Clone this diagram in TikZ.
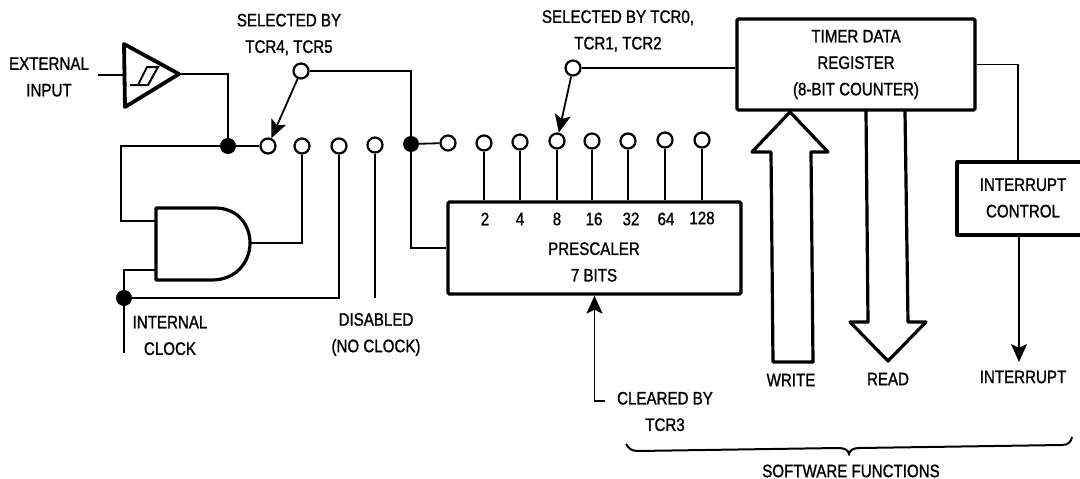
\documentclass[tikz,border=0pt]{standalone}
\usepackage{fontspec}
\setmainfont[FakeStretch=0.84, FakeBold=1.2]{Liberation Sans}
\usetikzlibrary{arrows.meta}
\tikzset{
    thinline/.style={line width=1.8pt},
    heavy/.style={line width=3.2pt, line join=round},
    pad/.style={circle, draw, fill=white, minimum size=15pt, inner sep=0pt, line width=2.2pt},
    junction/.style={circle, fill=black, minimum size=16pt, inner sep=0pt},
    block/.style={draw, line width=3.2pt, rounded corners=1.5pt, inner sep=0pt, align=center},
    lbl/.style={align=center, inner sep=0pt, font=\fontsize{18}{26.5}\selectfont}
}
\begin{document}
\begin{tikzpicture}[x=1pt, y=-1pt, >={Stealth[length=18pt, width=16pt, inset=4pt]}]
    \useasboundingbox (0,0) rectangle (1080,479);

    % Switch pads and junctions
    \node (sel1) [pad] at (301,71) {};
    \node (sel2) [pad] at (573,68) {};
    \node (ja) [junction] at (228,146) {};
    \node (jb) [junction] at (411,144) {};
    \node (jc) [junction] at (124,298) {};
    \node (pa) [pad] at (268,146) {};
    \node (pb) [pad] at (302,146) {};
    \node (pc) [pad] at (339,146) {};
    \node (pd) [pad] at (375,145) {};
    \node (p0) [pad] at (448,143) {};
    \node (p1) [pad] at (484,143) {};
    \node (p2) [pad] at (520,142) {};
    \node (p3) [pad] at (557,141) {};
    \node (p4) [pad] at (592,141) {};
    \node (p5) [pad] at (628,141) {};
    \node (p6) [pad] at (665,140) {};
    \node (p7) [pad] at (702,140) {};

    % Blocks
    \node (presc) [block, minimum width=293pt, minimum height=92pt] at (594.5,248) {};
    \node (reg) [block, lbl, minimum width=238pt, minimum height=91pt] at (856,64.5) {TIMER DATA\\REGISTER\\(8-BIT COUNTER)};
    \node (intctl) [lbl, minimum width=132pt, minimum height=73pt] at (1023,198) {INTERRUPT\\CONTROL};
    \draw[heavy] (1080,162) -- (957,162) -- (957,235) -- (1080,235);

    % Input buffer
    \coordinate (bufin) at (124,75);
    \coordinate (bufout) at (179,74);
    \coordinate (extin) at (98,75);
    \draw[heavy, line width=3.8pt] (124,44) -- (bufout) -- (125,107) -- cycle;
    \draw[line width=2pt] (130,85) -- (148,85) -- (158,67) -- (147,67) -- (138,85);

    % AND gate
    \coordinate (andina) at (156,221);
    \coordinate (andinb) at (156,270);
    \coordinate (andout) at (250,243);
    \draw[heavy] (156,208) -- (215,208) .. controls (238,208) and (250,225) .. (andout) .. controls (250,262) and (236,280) .. (212,280) -- (156,280) -- cycle;

    % Wires on the left
    \coordinate (clkin) at (124,353);
    \draw[thinline] (extin) -- (bufin);
    \draw[thinline] (bufout) -| (ja);
    \draw[thinline] (ja) -- (pa);
    \draw[thinline] (ja) -- ++(-107,0) |- (andina);
    \draw[thinline] (jc) |- (andinb);
    \draw[thinline] (jc) -- (clkin);
    \draw[thinline] (jc) -| (pc);
    \draw[thinline] (andout) -| (pb);
    \draw[thinline] (pd) -- (pd |- jc);
    \draw[thinline] (sel1) -| (jb);
    \draw[thinline] (jb) |- (presc.west);
    \draw[thinline] (jb) -- (p0);
    \draw[thinline, ->] (sel1) -- (pa);

    % Prescaler taps
    \draw[thinline] (p1) -- (p1 |- presc.north);
    \draw[thinline] (p2) -- (p2 |- presc.north);
    \draw[thinline] (p3) -- (p3 |- presc.north);
    \draw[thinline] (p4) -- (p4 |- presc.north);
    \draw[thinline] (p5) -- (p5 |- presc.north);
    \draw[thinline] (p6) -- (p6 |- presc.north);
    \draw[thinline] (p7) -- (p7 |- presc.north);
    \node (n2) [lbl] at (485,219) {2};
    \node (n4) [lbl] at (520,219) {4};
    \node (n8) [lbl] at (557,219) {8};
    \node (n16) [lbl] at (594,219) {16};
    \node (n32) [lbl] at (631,219) {32};
    \node (n64) [lbl] at (666,219) {64};
    \node (n128) [lbl] at (702,218) {128};
    \node (presctext) [lbl] at (594,262) {PRESCALER\\7 BITS};

    % Wires on the right
    \coordinate (intin) at (1018,162);
    \coordinate (intout) at (1019,235);
    \coordinate (intend) at (1019,362);
    \coordinate (clrend) at (605,401);
    \draw[thinline] (sel2) -- (sel2 -| reg.west);
    \draw[thinline, ->] (sel2) -- (p3);
    \draw[thinline] (reg.east) -| (intin);
    \draw[thinline, ->] (intout) -- (intend);
    \draw[thinline, ->] (clrend) -| (presc.south);

    % Write and read arrows
    \draw[heavy] (790,112) -- (752,152) -- (771,152) -- (773,362) -- (813,362) -- (811,152) -- (828,152) -- cycle;
    \draw[heavy] (866,111) -- (868,322) -- (850,322) -- (888,361) -- (926,322) -- (908,322) -- (905,111);

    % Brace
    \draw[line width=2pt] (626,444) .. controls (629,449) and (632,451) .. (638,451) -- (838,448) .. controls (845,448) and (848,450) .. (849,454) .. controls (850,450) and (853,448) .. (860,448) -- (1062,445) .. controls (1068,445) and (1071,442) .. (1072,437);

    % Labels
    \node (extlbl) [lbl] at (49,77) {EXTERNAL\\INPUT};
    \node (sel1lbl) [lbl] at (289,34.5) {SELECTED BY\\TCR4, TCR5};
    \node (sel2lbl) [lbl] at (618,31) {SELECTED BY TCR0,\\TCR1, TCR2};
    \node (clklbl) [lbl] at (170,335.5) {INTERNAL\\CLOCK};
    \node (dislbl) [lbl] at (376,334.5) {DISABLED\\(NO CLOCK)};
    \node (clrlbl) [lbl] at (665,411.5) {CLEARED BY\\TCR3};
    \node (wrlbl) [lbl] at (791,380) {WRITE};
    \node (rdlbl) [lbl] at (888,379) {READ};
    \node (irqlbl) [lbl] at (1023,377) {INTERRUPT};
    \node (swlbl) [lbl] at (851,471) {SOFTWARE FUNCTIONS};
\end{tikzpicture}
\end{document}
